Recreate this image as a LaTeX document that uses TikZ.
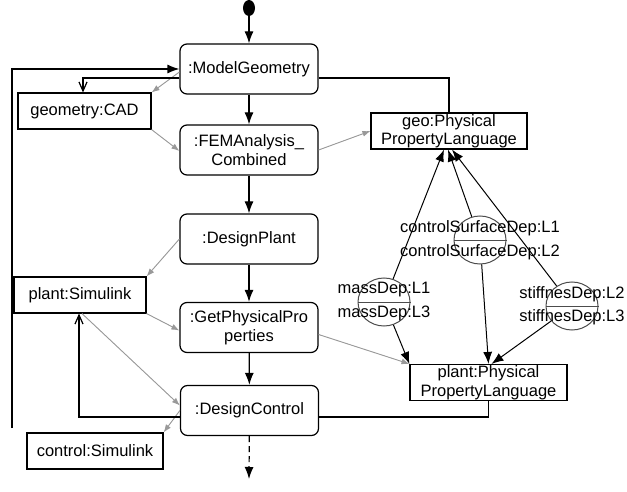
\documentclass[tikz,border=0pt]{standalone}
\usepackage{fontspec}
\setmainfont{Liberation Sans}
\usetikzlibrary{arrows.meta,shapes.geometric}

\begin{document}
\begin{tikzpicture}[x=1pt, y=-1pt, font=\fontsize{16.5}{18.5}\selectfont,
    action/.style={draw, line width=1.2pt, rounded corners=7pt, minimum width=138pt,
      minimum height=50pt, align=center, inner sep=1pt},
    object/.style={draw, line width=1.1pt, minimum height=36pt, align=center, inner sep=1pt},
    dep/.style={draw=black!70, ellipse, line width=1pt, minimum width=52pt, minimum height=48pt},
    flow/.style={line width=1.2pt, -{Latex[length=12pt,width=9pt]}},
    objflow/.style={draw=black!40, line width=0.9pt, -{Latex[length=8pt,width=6pt]}, fill=black!40},
    back/.style={line width=1.2pt, -{Straight Barb[length=9pt,width=8pt]}}]
  \useasboundingbox (0,0) rectangle (627,492);

  % activities
  \node[ellipse, fill, inner sep=0pt, minimum width=12pt, minimum height=16pt] (start) at (249,8) {};
  \node[action] (mg) at (249,69) {:ModelGeometry};
  \node[action] (fem) at (249,150) {:FEMAnalysis\_\\Combined};
  \node[action] (dp) at (249,239) {:DesignPlant};
  \node[action] (gpp) at (249,327.5) {:GetPhysicalPro\\perties};
  \node[action] (dc) at (249.5,410.5) {:DesignControl};
  \coordinate (stop) at (249,479);

  % objects
  \node[object, minimum width=133pt] (cad) at (84.5,111) {geometry:CAD};
  \node[object, minimum width=132pt] (psim) at (80,295) {plant:Simulink};
  \node[object, minimum width=136pt] (csim) at (95,451) {control:Simulink};
  \node[object, minimum width=156pt] (geo) at (449,131) {geo:Physical\\PropertyLanguage};
  \node[object, minimum width=157pt] (pppl) at (488.5,382.5) {plant:Physical\\PropertyLanguage};

  % dependencies
  \node[dep] (md) at (384,302) {};
  \node[dep] (csd) at (480,240) {};
  \node[dep] (sd) at (572,306) {};
  \draw[draw=black!70, line width=1pt] (md.west) -- (md.east) (csd.west) -- (csd.east)
    (sd.west) -- (sd.east);
  \node (mdA) at (384,290) {massDep:L1};
  \node (mdB) at (384,313) {massDep:L3};
  \node (csdA) at (480,228) {controlSurfaceDep:L1};
  \node (csdB) at (480,252) {controlSurfaceDep:L2};
  \node (sdA) at (572,294) {stiffnesDep:L2};
  \node (sdB) at (572,317) {stiffnesDep:L3};

  % control flow
  \draw[flow] (start) -- (mg);
  \draw[flow] (mg) -- (fem);
  \draw[flow] (fem) -- (dp);
  \draw[flow] (dp) -- (gpp);
  \draw[flow] (gpp) -- (dc);
  \draw[flow, dashed, dash pattern=on 6pt off 4pt] (dc) -- (stop);
  \coordinate (loop) at (12,428);
  \draw[flow] (loop) |- (mg.west);

  % object flow
  \draw[objflow] ([yshift=-3pt]mg.west) -- (cad.north east);
  \draw[objflow] (cad.south east) -- ([yshift=-1pt]fem.west);
  \draw[objflow] (fem.east) -- (geo.west);
  \draw[objflow] (dp.west) -- (psim.north east);
  \draw[objflow] (psim.south east) -- ([yshift=-3pt]gpp.west);
  \draw[objflow] ([xshift=2pt]psim.south) -- ([yshift=5pt]dc.west);
  \draw[objflow] (dc.west) -- (csim.north east);
  \draw[objflow] ([yshift=-7pt]gpp.east) -- (pppl.north west);

  % model links
  \draw[line width=1.2pt] ([yshift=-9pt]mg.east) -| (geo.north);
  \draw[back] ([yshift=-9pt]mg.west) -| ([xshift=-1.5pt]cad.north);
  \draw[back] ([yshift=-6.5pt]dc.west) -| ([xshift=-1pt]psim.south);
  \draw[line width=1.2pt] (pppl.south) |- ([yshift=-6.5pt]dc.east);

  % dependency arrows
  \draw[flow, line width=1pt] (md) -- ([xshift=-5pt]geo.south);
  \draw[flow, line width=1pt] (csd) -- ([xshift=-1pt]geo.south);
  \draw[flow, line width=1pt] (sd) -- ([xshift=3pt]geo.south);
  \draw[flow, line width=1pt] (md) -- (pppl.north west);
  \draw[flow, line width=1pt] (csd) -- (pppl.north);
  \draw[flow, line width=1pt] (sd) -- ([xshift=3pt]pppl.north);
\end{tikzpicture}
\end{document}
